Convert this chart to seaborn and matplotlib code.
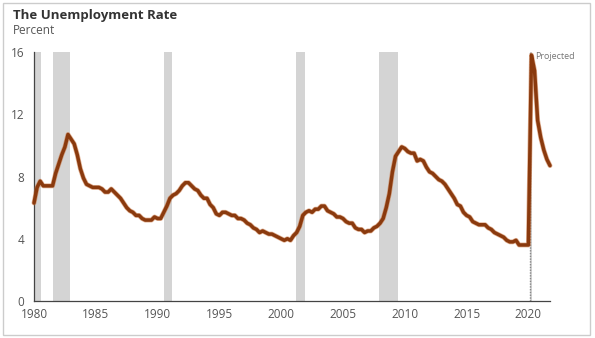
import matplotlib
matplotlib.use("Agg")
import matplotlib.pyplot as plt
import matplotlib.patheffects as pe
import seaborn as sns
import pandas as pd
import numpy as np

# Quarterly unemployment rate, 1980Q1 - 2020Q1 (actual)
actual = [
    6.3, 7.3, 7.7, 7.4,   # 1980
    7.4, 7.4, 7.4, 8.2,   # 1981
    8.8, 9.4, 9.9, 10.7,  # 1982
    10.4, 10.1, 9.4, 8.5, # 1983
    7.9, 7.5, 7.4, 7.3,   # 1984
    7.3, 7.3, 7.2, 7.0,   # 1985
    7.0, 7.2, 7.0, 6.8,   # 1986
    6.6, 6.3, 6.0, 5.8,   # 1987
    5.7, 5.5, 5.5, 5.3,   # 1988
    5.2, 5.2, 5.2, 5.4,   # 1989
    5.3, 5.3, 5.7, 6.1,   # 1990
    6.6, 6.8, 6.9, 7.1,   # 1991
    7.4, 7.6, 7.6, 7.4,   # 1992
    7.2, 7.1, 6.8, 6.6,   # 1993
    6.6, 6.2, 6.0, 5.6,   # 1994
    5.5, 5.7, 5.7, 5.6,   # 1995
    5.5, 5.5, 5.3, 5.3,   # 1996
    5.2, 5.0, 4.9, 4.7,   # 1997
    4.6, 4.4, 4.5, 4.4,   # 1998
    4.3, 4.3, 4.2, 4.1,   # 1999
    4.0, 3.9, 4.0, 3.9,   # 2000
    4.2, 4.4, 4.8, 5.5,   # 2001
    5.7, 5.8, 5.7, 5.9,   # 2002
    5.9, 6.1, 6.1, 5.8,   # 2003
    5.7, 5.6, 5.4, 5.4,   # 2004
    5.3, 5.1, 5.0, 5.0,   # 2005
    4.7, 4.6, 4.6, 4.4,   # 2006
    4.5, 4.5, 4.7, 4.8,   # 2007
    5.0, 5.3, 6.0, 6.9,   # 2008
    8.3, 9.3, 9.6, 9.9,   # 2009
    9.8, 9.6, 9.5, 9.5,   # 2010
    9.0, 9.1, 9.0, 8.6,   # 2011
    8.3, 8.2, 8.0, 7.8,   # 2012
    7.7, 7.5, 7.2, 6.9,   # 2013
    6.6, 6.2, 6.1, 5.7,   # 2014
    5.5, 5.4, 5.1, 5.0,   # 2015
    4.9, 4.9, 4.9, 4.7,   # 2016
    4.6, 4.4, 4.3, 4.2,   # 2017
    4.1, 3.9, 3.8, 3.8,   # 2018
    3.9, 3.6, 3.6, 3.6,   # 2019
    3.6,                  # 2020Q1
]
# Projected, 2020Q2 - 2021Q4
projected = [15.8, 14.8, 11.6, 10.5, 9.7, 9.1, 8.7]

start_year = 1980
recessions = [(1980.0, 1980.55), (1981.5, 1982.9), (1990.5, 1991.2),
              (2001.17, 2001.9), (2007.92, 2009.45), (2020.1, 2020.3)]
x_ticks = [1980, 1985, 1990, 1995, 2000, 2005, 2010, 2015, 2020]
y_ticks = [0, 4, 8, 12, 16]
title = "The Unemployment Rate"
subtitle = "Percent"
proj_label = "Projected"
proj_start = 2020.1

values = actual + projected
df = pd.DataFrame({
    "year": [start_year + i / 4 for i in range(len(values))],
    "rate": values,
})

sns.set_theme(style="white")
plt.rcParams["font.family"] = ["Open Sans", "DejaVu Sans"]

fig = plt.figure(figsize=(5.95, 3.38), dpi=100)
ax = fig.add_axes([34 / 595, 1 - 301 / 338, (550 - 34) / 595, (301 - 52) / 338])

for a, b in recessions:
    ax.axvspan(a, b, ymin=0, ymax=1, color="#d4d4d4", lw=0, zorder=0)

ax.axvline(proj_start, color="#888888", lw=1.0, ls=(0, (1, 1)), zorder=1)

sns.lineplot(data=df, x="year", y="rate", ax=ax, color="#8a3a0e", lw=2.5,
             zorder=3, clip_on=False,
             path_effects=[pe.Stroke(linewidth=3.5, foreground="#c8703a", alpha=0.55),
                           pe.Normal()])

ax.set_xlim(1980, 2021.75)
ax.set_ylim(0, 16)
ax.set_xticks(x_ticks)
ax.set_yticks(y_ticks)
ax.set_xlabel("")
ax.set_ylabel("")
for s in ["top", "right"]:
    ax.spines[s].set_visible(False)
for s in ["left", "bottom"]:
    ax.spines[s].set_color("#444444")
    ax.spines[s].set_linewidth(0.9)
ax.tick_params(axis="both", direction="in", length=3, width=0.8, color="#666666",
               labelsize=8.5, labelcolor="#555555")
ax.tick_params(axis="x", pad=5)
ax.tick_params(axis="y", pad=7)

ax.text(2020.55, 15.7, proj_label, fontsize=6.5, color="#777777", va="center", ha="left")

fig.text(13 / 595, 1 - 16 / 338, title, fontsize=9.5, fontweight="bold", color="#333333",
         va="center", ha="left")
fig.text(13 / 595, 1 - 30 / 338, subtitle, fontsize=8.5, color="#555555",
         va="center", ha="left")

border = plt.Rectangle((3 / 595, 3 / 338), 587 / 595, 332 / 338, transform=fig.transFigure,
                       fill=False, edgecolor="#cccccc", lw=1)
fig.patches.append(border)

fig.savefig("out.png", dpi=100)
